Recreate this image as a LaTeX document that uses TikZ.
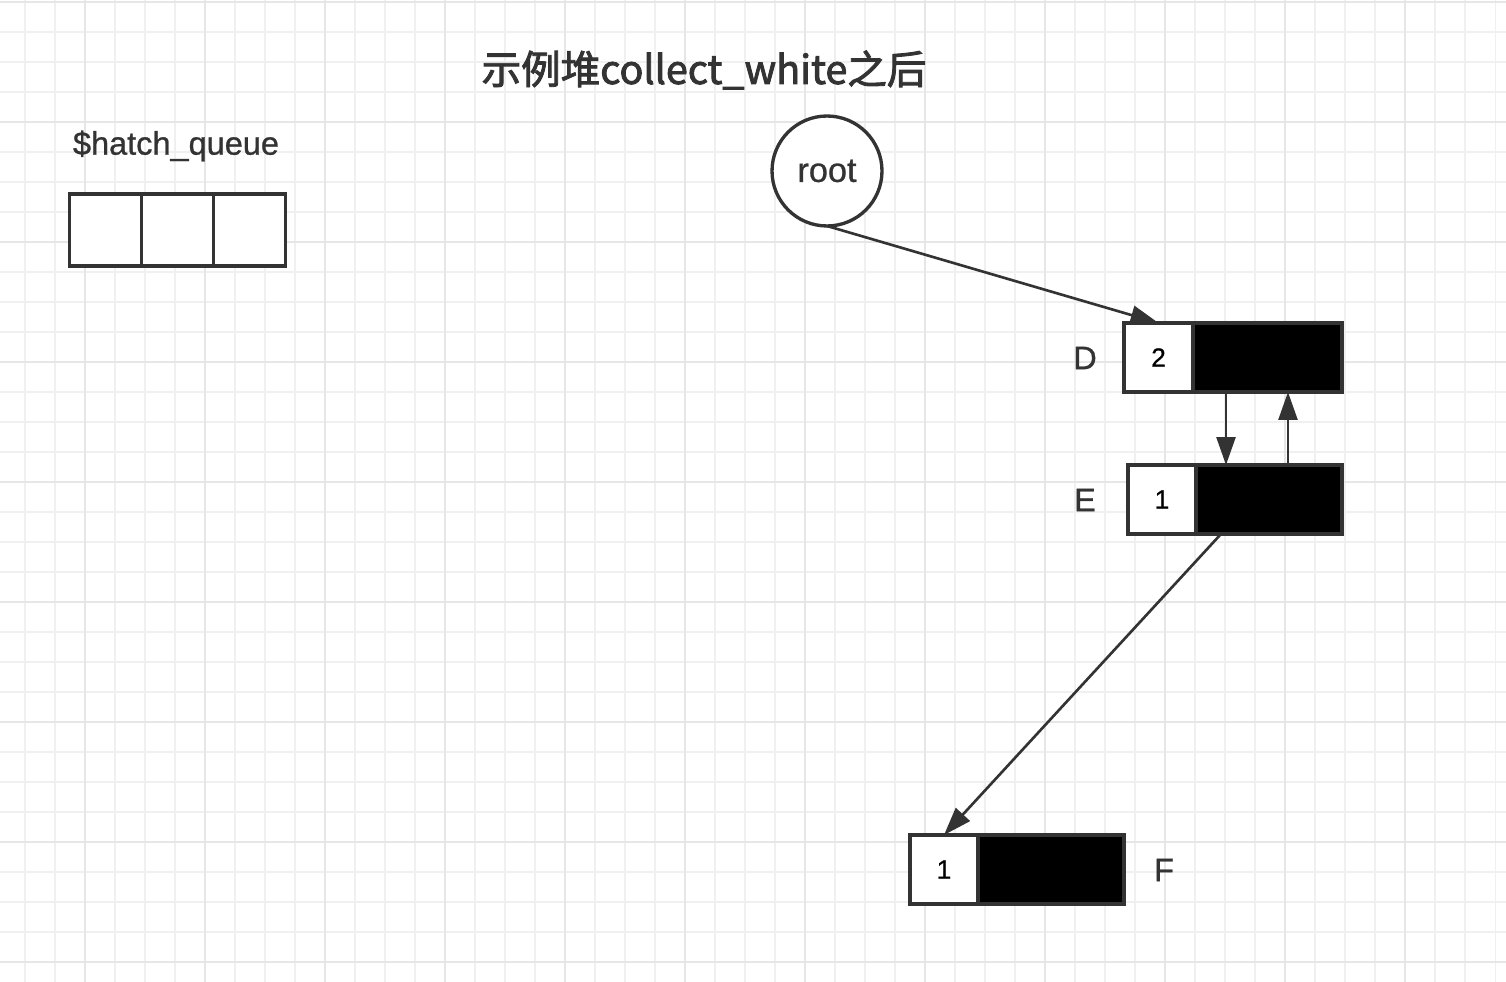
\documentclass[tikz,border=0pt]{standalone}
\usepackage{fontspec}
\setmainfont{Liberation Sans}
\newfontfamily\cjk[FakeBold=2.2]{Noto Sans CJK SC}
\newfontfamily\lblfont[FakeBold=0.8]{Liberation Sans}
\usetikzlibrary{arrows.meta}
\definecolor{lc}{HTML}{333333}
\definecolor{gminor}{HTML}{F0F0F0}
\definecolor{gmajor}{HTML}{E6E6E6}
\tikzset{
  cell/.style={draw=lc, line width=1.9pt, inner sep=0pt, outer sep=0pt, fill=white, minimum height=1.38cm, font=\lblfont\fontsize{15}{18}\selectfont},
  blk/.style={draw=lc, line width=1.9pt, inner sep=0pt, outer sep=0pt, fill=black, minimum height=1.38cm},
  qcell/.style={draw=lc, line width=1.9pt, inner sep=0pt, outer sep=0pt, fill=white, minimum width=1.44cm, minimum height=1.44cm},
  lbl/.style={text=lc, inner sep=0pt, font=\lblfont\fontsize{18.5}{21}\selectfont},
  arr/.style={draw=lc, line width=1.5pt, -{Triangle[length=0.56cm, width=0.38cm]}},
}
\begin{document}
\begin{tikzpicture}[x=0.02cm, y=-0.02cm]
\useasboundingbox (0,0) rectangle (1506,982);
\fill[white] (0,0) rectangle (1506,982);
% grid
\foreach \k in {0,...,49} { \draw[gminor, line width=0.6pt] ({25+30*\k},0) -- ({25+30*\k},982); }
\foreach \k in {0,...,32} { \draw[gminor, line width=0.6pt] (0,{2+30*\k}) -- (1506,{2+30*\k}); }
\foreach \k in {0,...,11} { \draw[gmajor, line width=1.1pt] ({85+120*\k},0) -- ({85+120*\k},982); }
\foreach \k in {0,...,8} { \draw[gmajor, line width=1.1pt] (0,{2+120*\k}) -- (1506,{2+120*\k}); }

% title
\node[text=lc, inner sep=0pt] (title) at (704,70) {\cjk\fontsize{22.5}{26}\selectfont 示例堆collect\_white之后};

% hatch queue
\node[lbl] (hq) at (176,146) {\$hatch\_queue};
\node[qcell] (q1) at (105.5,230) {};
\node[qcell, anchor=west] (q2) at (q1.east) {};
\node[qcell, anchor=west] (q3) at (q2.east) {};

% root
\node[draw=lc, line width=1.9pt, circle, minimum size=2.2cm, inner sep=0pt, outer sep=0pt, fill=white, text=lc, font=\lblfont\fontsize{19.5}{22}\selectfont] (root) at (827,171) {root};

% D
\node[cell, minimum width=1.38cm] (D2) at (1158.5,357.5) {2};
\node[blk, minimum width=2.98cm, anchor=west] (Db) at (D2.east) {};
\node[lbl] (Dl) at (1085,358) {D};

% E
\node[cell, minimum width=1.36cm] (E1) at (1162,499.5) {1};
\node[blk, minimum width=2.92cm, anchor=west] (Eb) at (E1.east) {};
\node[lbl] (El) at (1085,500) {E};

% F
\node[cell, minimum width=1.36cm] (F1) at (944,869.5) {1};
\node[blk, minimum width=2.92cm, anchor=west] (Fb) at (F1.east) {};
\node[lbl] (Fl) at (1164,870) {F};

% arrows
\draw[arr] (root.south) -- (D2.north);
\draw[arr] ([xshift=0.6cm]Eb.north west |- Db.south) -- ([xshift=0.6cm]Eb.north west);
\draw[arr] ([xshift=1.84cm]Eb.north west) -- ([xshift=1.84cm]Eb.north west |- Db.south);
\draw[arr] ([xshift=0.5cm]Eb.south west) -- (F1.north);
\end{tikzpicture}
\end{document}
